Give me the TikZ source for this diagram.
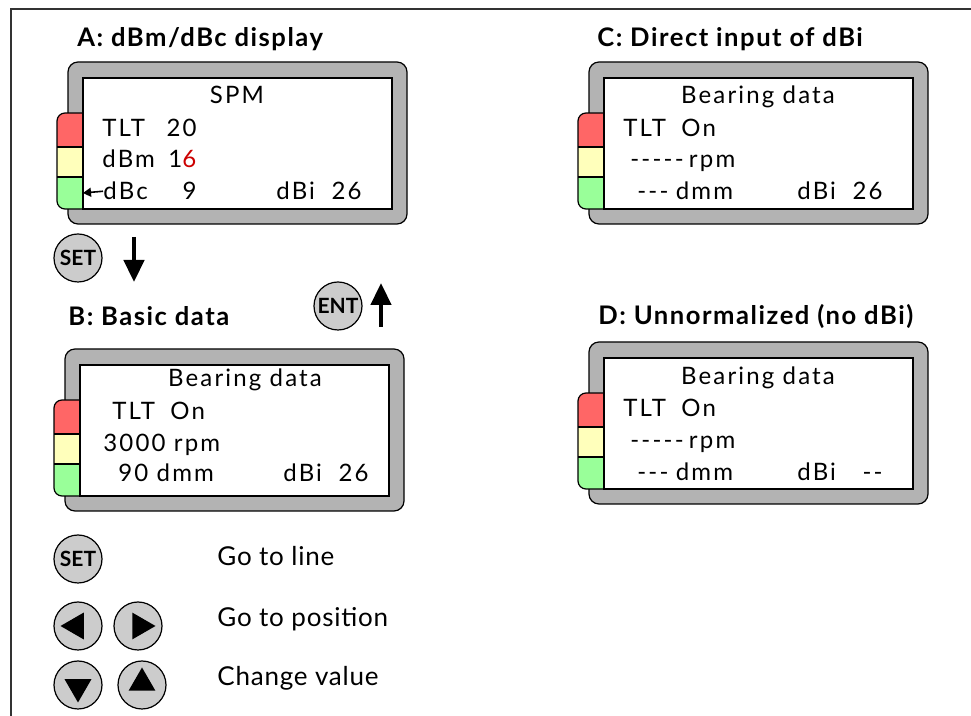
\documentclass[tikz,border=0pt]{standalone}
\usepackage{fontspec}
\setmainfont{Lato}
\newfontfamily\lcdfont[LetterSpace=9]{Lato}
\newfontfamily\headfont[LetterSpace=6]{Lato}
\newfontfamily\hintfont[LetterSpace=3]{Lato}
\usetikzlibrary{arrows.meta,shapes.geometric}
\definecolor{bezelGray}{HTML}{B3B3B3}
\definecolor{keyGray}{HTML}{CCCCCC}
\definecolor{ledRed}{HTML}{FF6666}
\definecolor{ledYel}{HTML}{FFFFBB}
\definecolor{ledGrn}{HTML}{99FF99}
\definecolor{digitRed}{HTML}{CC0000}
\definecolor{frameGray}{HTML}{333333}
\tikzset{
  title/.style={font=\headfont\fontsize{12.8}{14}\selectfont\bfseries,
                anchor=base west, inner sep=0pt},
  lcd/.style={font=\lcdfont\fontsize{12}{14}\selectfont, anchor=base west,
              inner sep=0pt},
  lcdr/.style={lcd, anchor=base east},
  lcdc/.style={lcd, anchor=base},
  hint/.style={font=\hintfont\fontsize{13}{15}\selectfont, anchor=base west,
               inner sep=0pt},
  key/.style={circle, draw, line width=0.6pt, fill=keyGray, minimum size=24pt,
              inner sep=0pt, font=\fontsize{10.5}{11}\selectfont\bfseries},
  tri/.style={regular polygon, regular polygon sides=3, fill=black,
              minimum size=15.5pt, inner sep=0pt},
  move/.style={-{Triangle[length=11pt,width=10pt]}, line width=2.3pt},
  ptr/.style={-{Triangle[length=4pt,width=4.5pt]}, line width=0.8pt},
}
% bezel + LED strip + screen, #1,#2 = top left corner of the bezel
\newcommand{\lcdpanel}[2]{%
  \begin{scope}[shift={(#1,#2)}]
    \draw[fill=bezelGray, line width=0.6pt, rounded corners=5pt]
      (0,0) rectangle (339,162);
    \begin{scope}
      \clip[rounded corners=4pt] (-11,51) rectangle (25,147);
      \fill[ledRed] (-11,51) rectangle (15,85);
      \fill[ledYel] (-11,85) rectangle (15,115);
      \fill[ledGrn] (-11,115) rectangle (15,147);
    \end{scope}
    \draw[line width=0.6pt, rounded corners=4pt] (-11,51) rectangle (25,147);
    \draw[line width=0.6pt] (-11,85) -- (15,85) (-11,115) -- (15,115);
    \draw[fill=white, line width=0.6pt] (15,16) rectangle (324,147);
  \end{scope}}
\newcommand{\gap}{\hspace{3.5pt} }

\begin{document}
\begin{tikzpicture}[x=0.5pt, y=-0.5pt]
\useasboundingbox (0,0) rectangle (971,716);

% frame edges
\draw[frameGray, line width=0.8pt] (971,9) -- (11,9) -- (11,716);

%% -- A: dBm/dBc ----------------------------------------------------------
\node[title] (titA) at (77,47) {A: dBm/dBc display};
\lcdpanel{68}{62}
\node[lcdc] (aHead) at (237,104) {SPM};
\node[lcd]  (aTlt)  at (102,137) {TLT};
\node[lcdr] (aTltV) at (197,137) {20};
\node[lcd]  (aDbm)  at (102,168) {dBm};
\node[lcd]  (aDbmV) at (168,168) {1\textcolor{digitRed}{6}};
\node[lcd]  (aDbc)  at (103,200) {dBc};
\node[lcdr] (aDbcV) at (197,200) {9};
\node[lcd]  (aDbi)  at (276,200) {dBi};
\node[lcdr] (aDbiV) at (362,200) {26};
\coordinate (aLed) at (83,193);
\draw[ptr] (aDbc.west) -- (aLed);

%% -- keys between A and B ------------------------------------------------
\node[key] (setA) at (78,258) {SET};
\coordinate (dnTop) at (134,237);
\coordinate (dnTip) at (134,282);
\draw[move] (dnTop) -- (dnTip);
\node[key] (entB) at (338,306) {ENT};
\coordinate (upBot) at (381,327);
\coordinate (upTip) at (381,283);
\draw[move] (upBot) -- (upTip);

%% -- B: basic data -------------------------------------------------------
\node[title] (titB) at (68,326) {B: Basic data};
\lcdpanel{65}{349}
\node[lcdc] (bHead) at (245,387) {Bearing data};
\node[lcd]  (bTlt)  at (112,420) {TLT\gap On};
\node[lcd]  (bRpm)  at (103,452) {3000 rpm};
\node[lcd]  (bDmm)  at (118,482) {90 dmm};
\node[lcd]  (bDbi)  at (283,482) {dBi};
\node[lcdr] (bDbiV) at (369,482) {26};

%% -- C: direct input -----------------------------------------------------
\node[title] (titC) at (597,47) {C: Direct input of dBi};
\lcdpanel{589}{62}
\node[lcdc] (cHead) at (758,104) {Bearing data};
\node[lcd]  (cTlt)  at (623,137) {TLT\gap On};
\node[lcd]  (cRpm)  at (630,168) {-----\hspace{-1.5pt} rpm};
\node[lcd]  (cDmm)  at (637,200) {---\hspace{-0.5pt} dmm};
\node[lcd]  (cDbi)  at (797,200) {dBi};
\node[lcdr] (cDbiV) at (883,200) {26};

%% -- D: unnormalized -----------------------------------------------------
\node[title] (titD) at (598,325) {D: Unnormalized (no dBi)};
\lcdpanel{589}{342}
\node[lcdc] (dHead) at (758,385) {Bearing data};
\node[lcd]  (dTlt)  at (623,417) {TLT\gap On};
\node[lcd]  (dRpm)  at (630,449) {-----\hspace{-1.5pt} rpm};
\node[lcd]  (dDmm)  at (637,481) {---\hspace{-0.5pt} dmm};
\node[lcd]  (dDbi)  at (797,481) {dBi};
\node[lcdr] (dDbiV) at (883,481) {--};

%% -- key legend ----------------------------------------------------------
\node[key] (kSet) at (78,559) {SET};
\node[key] (kLeft) at (78,626) {};
\node[key] (kRight) at (138,626) {};
\node[key] (kDown) at (78,685) {};
\node[key] (kUp) at (142,685) {};
\node[tri, regular polygon rotate=90] (tLeft) at ([xshift=-1pt]kLeft.center) {};
\node[tri, regular polygon rotate=-90] (tRight) at ([xshift=1pt]kRight.center) {};
\node[tri, regular polygon rotate=180] (tDown) at ([yshift=-1pt]kDown.center) {};
\node[tri] (tUp) at ([yshift=1pt]kUp.center) {};
\node[hint] (hSet)  at (217,566) {Go to line};
\node[hint] (hPos)  at (217,627) {Go to position};
\node[hint] (hVal)  at (217,686) {Change value};

\end{tikzpicture}
\end{document}
